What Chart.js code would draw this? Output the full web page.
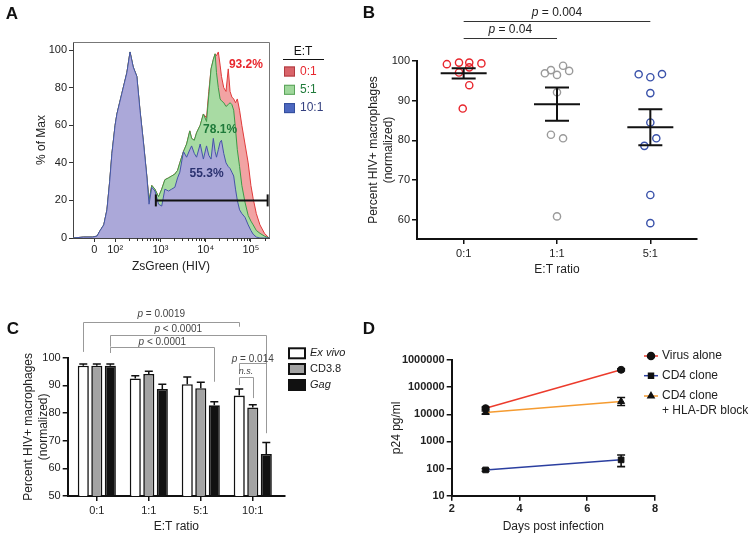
<!DOCTYPE html>
<html>
<head>
<meta charset="utf-8">
<script src="https://cdn.jsdelivr.net/npm/chart.js@4.4.1/dist/chart.umd.min.js"></script>
<style>
  body { margin: 0; background: #fff; width: 752px; height: 539px; position: relative; overflow: hidden; }
  canvas { position: absolute; }
</style>
</head>
<body>
<canvas id="panelA" width="340" height="280" style="left:0;top:0"></canvas>
<canvas id="panelB" width="412" height="280" style="left:340px;top:0"></canvas>
<canvas id="panelC" width="355" height="259" style="left:0;top:280px"></canvas>
<canvas id="panelD" width="397" height="259" style="left:355px;top:280px"></canvas>
<script>
// ---- A: ZsGreen histograms (x in decades on the display scale, y = % of max)
const histX = [1.07, 1.3, 1.5, 1.6, 1.67, 1.75, 1.82, 1.88, 1.93, 2.0,
  2.04, 2.1, 2.15, 2.2, 2.26, 2.33, 2.4, 2.48, 2.55, 2.63,
  2.7, 2.75, 2.81, 2.88, 2.96, 3.03, 3.1, 3.18, 3.25, 3.32,
  3.38, 3.43, 3.51, 3.58, 3.65, 3.69, 3.75, 3.8, 3.88, 3.95,
  4.02, 4.07, 4.12, 4.17, 4.21, 4.24, 4.28, 4.32, 4.35, 4.4,
  4.45, 4.5, 4.54, 4.58, 4.62, 4.66, 4.7, 4.75, 4.8, 4.87,
  4.94, 5.0, 5.05, 5.12, 5.2, 5.3, 5.4];
const hist10to1 = [0, 0.5, 0.5, 1, 4, 7, 15, 30, 45, 60,
  66, 72, 77, 82, 88, 99, 91, 86, 68, 50,
  33, 18, 27, 25, 18, 17, 26, 25, 26, 27,
  32, 35, 46, 43, 47, 49, 45, 43, 50, 42,
  49, 44, 42, 53, 46, 43, 47, 51, 52, 45,
  40, 38, 37, 35, 33, 26, 20, 15, 13, 11,
  7, 4, 2, 0.5, 0, 0, 0];
const hist5to1 = [0, 0.5, 0.5, 1, 4, 7, 15, 30, 45, 60,
  66, 72, 77, 82, 88, 99, 91, 86, 68, 50,
  33, 20, 28, 26, 22, 26, 31, 32, 33, 34,
  36, 40, 46, 50, 57, 53, 52, 56, 60, 66,
  62, 76, 90, 95, 98, 88, 80, 74, 73, 72,
  70, 71, 72, 71, 68, 58, 47, 38, 28, 19,
  12, 9, 7, 4, 2.5, 1, 0];
const hist0to1 = [0, 0.5, 0.5, 1, 4, 7, 15, 30, 45, 60,
  66, 72, 77, 82, 88, 99, 91, 86, 68, 50,
  33, 20, 28, 26, 22, 26, 31, 32, 33, 34,
  36, 40, 46, 50, 57, 53, 52, 56, 60, 66,
  64, 78, 90, 95, 98, 97, 99, 92, 86, 80,
  78, 90, 78, 75, 74, 72, 74, 68, 60, 50,
  40, 28, 21, 13, 7, 2.5, 0];
const gateX = [2.9, 5.37];
const gateY = [20, 20];
const aTickPos = [1.54, 2, 3, 4, 5];
const aTickLabels = ['0', '10\u00B2', '10\u00B3', '10\u2074', '10\u2075'];
const aYTicks = [0, 20, 40, 60, 80, 100];
const aGroups = ['0:1', '5:1', '10:1'];
const aPercents = ['93.2%', '78.1%', '55.3%'];

// ---- B: individual donors
const bCats = ['0:1', '1:1', '5:1'];
const b0x = [0.82, 0.95, 1.06, 1.19, 0.95, 1.06, 1.06, 0.99];
const b0y = [99.2, 99.6, 99.6, 99.4, 97.1, 98.4, 93.9, 88.0];
const b1x = [1.87, 1.935, 2.0, 2.065, 2.13, 2.0, 1.935, 2.065, 2.0];
const b1y = [96.9, 97.7, 96.5, 98.8, 97.5, 92.1, 81.4, 80.5, 60.8];
const b2x = [2.875, 3.0, 3.125, 3.0, 3.0, 3.064, 2.936, 3.0, 3.0];
const b2y = [96.65, 95.9, 96.7, 91.9, 84.5, 80.5, 78.6, 66.2, 59.1];
const bMean = [96.9, 89.1, 83.3];
const bSem = [1.3, 4.2, 4.55];
const bYTicks = [60, 70, 80, 90, 100];

// ---- C: clones
const cCats = ['0:1', '1:1', '5:1', '10:1'];
const exVivo = [97.1, 92.5, 90.4, 86.3];
const exVivoSem = [0.6, 1.0, 2.6, 2.4];
const cd38 = [97.1, 94.1, 89.0, 82.0];
const cd38Sem = [0.6, 1.0, 2.1, 1.0];
const gag = [97.1, 88.7, 82.8, 65.2];
const gagSem = [0.6, 1.7, 1.3, 4.1];

// ---- D: p24 over time
const dDays = [3, 7];
const virusAlone = [16800, 435000];
const virusLo = [15000, 400000];
const virusHi = [18500, 470000];
const cd4Clone = [89, 209];
const cd4Lo = [80, 118];
const cd4Hi = [99, 316];
const hlaBlock = [11600, 29600];
const hlaLo = [10200, 21000];
const hlaHi = [13200, 41700];
const dYTicks = [10, 100, 1000, 10000, 100000, 1000000];

const FONT = "'Liberation Sans', Arial, sans-serif";
Chart.defaults.font.family = FONT;
Chart.defaults.color = '#222';

function pts(xs, ys) { return xs.map((x, i) => ({ x: x, y: ys[i] })); }

function fixedTicks(values) {
  return function (scale) { scale.ticks = values.map(v => ({ value: v })); };
}

function axis(opts) {
  return Object.assign({
    grid: { drawOnChartArea: false, drawTicks: true, tickLength: 5, color: '#111', lineWidth: 1.5 },
    border: { display: true, color: '#111', width: 2 }
  }, opts);
}

function panelLetter(ctx, letter, x, y) {
  ctx.font = 'bold 17px ' + FONT;
  ctx.fillStyle = '#111';
  ctx.textAlign = 'center';
  ctx.textBaseline = 'middle';
  ctx.fillText(letter, x, y);
}

function pText(ctx, cx, cy, rest, size, color) {
  const it = 'italic ' + size + 'px ' + FONT;
  const no = size + 'px ' + FONT;
  ctx.font = it; const w1 = ctx.measureText('p').width;
  ctx.font = no; const w2 = ctx.measureText(rest).width;
  const x0 = cx - (w1 + w2) / 2;
  ctx.fillStyle = color; ctx.textAlign = 'left'; ctx.textBaseline = 'middle';
  ctx.font = it; ctx.fillText('p', x0, cy);
  ctx.font = no; ctx.fillText(rest, x0 + w1, cy);
}

// ================= A =================
const panelAExtras = {
  id: 'panelAExtras',
  afterDraw(chart) {
    const { ctx, chartArea: a, scales: { x, y } } = chart;
    ctx.save();
    // frame top / right
    ctx.strokeStyle = '#777'; ctx.lineWidth = 1;
    ctx.beginPath();
    ctx.moveTo(a.left, a.top + 0.5); ctx.lineTo(a.right + 0.5, a.top + 0.5); ctx.lineTo(a.right + 0.5, a.bottom);
    ctx.stroke();
    // log minor ticks
    ctx.strokeStyle = '#333';
    ctx.beginPath();
    for (let n = 2; n <= 5; n++) {
      for (let k = 2; k <= 9; k++) {
        const v = n + Math.log10(k);
        if (v > x.max) continue;
        const px = Math.round(x.getPixelForValue(v)) + 0.5;
        ctx.moveTo(px, a.bottom); ctx.lineTo(px, a.bottom + 3);
      }
    }
    ctx.stroke();
    // gate percentages
    ctx.font = 'bold 12px ' + FONT;
    ctx.textAlign = 'center'; ctx.textBaseline = 'middle';
    const pc = ['#e8262d', '#1f7a3a', '#2b3270'];
    const px = [4.89, 4.32, 4.02], py = [92, 57.4, 34];
    aPercents.forEach((t, i) => {
      ctx.fillStyle = pc[i];
      ctx.fillText(t, x.getPixelForValue(px[i]), y.getPixelForValue(py[i]));
    });
    // legend
    ctx.font = '12px ' + FONT;
    ctx.fillStyle = '#111';
    ctx.fillText('E:T', 303, 52);
    ctx.strokeStyle = '#111'; ctx.lineWidth = 1;
    ctx.beginPath(); ctx.moveTo(283, 59.5); ctx.lineTo(324, 59.5); ctx.stroke();
    const sq = ['#d9646a', '#9fd79b', '#4d68c0'];
    const sqb = ['#b03a40', '#5aa35a', '#334e9c'];
    const tc = ['#e8262d', '#1f7a3a', '#34407f'];
    aGroups.forEach((g, i) => {
      const cy = 71.5 + i * 18.3;
      ctx.fillStyle = sq[i]; ctx.fillRect(284, cy - 5, 11, 10);
      ctx.strokeStyle = sqb[i]; ctx.strokeRect(284.5, cy - 4.5, 10, 9);
      ctx.fillStyle = tc[i]; ctx.textAlign = 'left';
      ctx.fillText(g, 300, cy);
    });
    panelLetter(ctx, 'A', 12, 14);
    ctx.restore();
  }
};

new Chart(document.getElementById('panelA'), {
  type: 'line',
  data: {
    datasets: [
      { label: 'gate', data: pts(gateX, gateY), borderColor: '#111', borderWidth: 2,
        pointStyle: 'line', pointRadius: 6, pointRotation: 90, pointBorderWidth: 2,
        pointBorderColor: '#111', fill: false, clip: false },
      { label: '10:1', data: pts(histX, hist10to1), borderColor: '#4654a8', backgroundColor: '#aba8d9',
        borderWidth: 1, fill: 'origin', pointRadius: 0, tension: 0 },
      { label: '5:1', data: pts(histX, hist5to1), borderColor: '#3c9a48', backgroundColor: '#a8dba3',
        borderWidth: 1, fill: 'origin', pointRadius: 0, tension: 0 },
      { label: '0:1', data: pts(histX, hist0to1), borderColor: '#e03a3a', backgroundColor: '#f2a3a3',
        borderWidth: 1, fill: 'origin', pointRadius: 0, tension: 0 }
    ]
  },
  options: {
    responsive: false, devicePixelRatio: 1, animation: false,
    layout: { padding: { left: 0, top: 42, right: 71, bottom: 0 } },
    plugins: { legend: { display: false }, tooltip: { enabled: false } },
    scales: {
      x: axis({
        type: 'linear', min: 1.07, max: 5.4,
        grid: { drawOnChartArea: false, drawTicks: true, tickLength: 4, color: '#333', lineWidth: 1 },
        border: { display: true, color: '#444', width: 1 },
        afterBuildTicks: fixedTicks(aTickPos),
        afterFit: s => { s.height = 42; },
        ticks: { autoSkip: false, maxRotation: 0, padding: 1, font: { size: 11 }, callback: (v, i) => aTickLabels[i] },
        title: { display: true, text: 'ZsGreen (HIV)', font: { size: 12 }, padding: { top: 0, bottom: 6 } }
      }),
      y: axis({
        min: 0, max: 104.3,
        grid: { drawOnChartArea: false, drawTicks: true, tickLength: 4, color: '#333', lineWidth: 1 },
        border: { display: true, color: '#444', width: 1 },
        afterBuildTicks: fixedTicks(aYTicks),
        afterFit: s => { s.width = 73; },
        ticks: { padding: 2, font: { size: 11 } },
        title: { display: true, text: '% of Max', font: { size: 12 }, padding: { top: 34.8, bottom: 0 } }
      })
    }
  },
  plugins: [panelAExtras]
});

// ================= B =================
const panelBExtras = {
  id: 'panelBExtras',
  afterDatasetsDraw(chart) {
    const { ctx, scales: { x, y } } = chart;
    ctx.save();
    ctx.strokeStyle = '#111'; ctx.lineWidth = 2;
    bMean.forEach((m, i) => {
      const cx = x.getPixelForValue(i + 1);
      const my = y.getPixelForValue(m);
      const hi = y.getPixelForValue(m + bSem[i]);
      const lo = y.getPixelForValue(m - bSem[i]);
      ctx.beginPath();
      ctx.moveTo(cx - 23, my); ctx.lineTo(cx + 23, my);
      ctx.moveTo(cx - 12, hi); ctx.lineTo(cx + 12, hi);
      ctx.moveTo(cx - 12, lo); ctx.lineTo(cx + 12, lo);
      ctx.moveTo(cx, hi); ctx.lineTo(cx, lo);
      ctx.stroke();
    });
    ctx.restore();
  },
  afterDraw(chart) {
    const { ctx, scales: { x } } = chart;
    ctx.save();
    ctx.strokeStyle = '#333'; ctx.lineWidth = 1;
    const x1 = x.getPixelForValue(1), x2 = x.getPixelForValue(2), x3 = x.getPixelForValue(3);
    ctx.beginPath();
    ctx.moveTo(x1, 38.5); ctx.lineTo(x2, 38.5);
    ctx.moveTo(x1, 21.5); ctx.lineTo(x3, 21.5);
    ctx.stroke();
    pText(ctx, (x1 + x2) / 2, 30, ' = 0.04', 12, '#222');
    pText(ctx, (x1 + x3) / 2, 13, ' = 0.004', 12, '#222');
    panelLetter(ctx, 'B', 29, 13);
    ctx.restore();
  }
};

function bSet(xs, ys, color) {
  return { data: pts(xs, ys), borderColor: color, backgroundColor: 'rgba(0,0,0,0)',
    pointRadius: 3.6, pointBorderWidth: 1.4, pointBackgroundColor: 'rgba(0,0,0,0)',
    pointBorderColor: color, showLine: false, clip: false };
}

new Chart(document.getElementById('panelB'), {
  type: 'scatter',
  data: {
    datasets: [
      bSet(b0x, b0y, '#e8262d'),
      bSet(b1x, b1y, '#9a9a9a'),
      bSet(b2x, b2y, '#3a52aa')
    ]
  },
  options: {
    responsive: false, devicePixelRatio: 1, animation: false,
    layout: { padding: { left: 0, top: 61, right: 55, bottom: 0 } },
    plugins: { legend: { display: false }, tooltip: { enabled: false } },
    scales: {
      x: axis({
        type: 'linear', min: 0.5, max: 3.5,
        afterBuildTicks: fixedTicks([1, 2, 3]),
        afterFit: s => { s.height = 41; },
        ticks: { autoSkip: false, maxRotation: 0, padding: 3, font: { size: 11 }, callback: (v, i) => bCats[i] },
        title: { display: true, text: 'E:T ratio', font: { size: 12 }, padding: { top: 0, bottom: 2.8 } }
      }),
      y: axis({
        min: 55.1, max: 100,
        afterBuildTicks: fixedTicks(bYTicks),
        afterFit: s => { s.width = 77; },
        ticks: { padding: 2, font: { size: 11 } },
        title: { display: true, text: ['Percent HIV+ macrophages', '(normalized)'],
          font: { size: 12, lineHeight: 1.25 }, padding: { top: 25.8, bottom: 0 } }
      })
    }
  },
  plugins: [panelBExtras]
});

// ================= C =================
const cSems = [exVivoSem, cd38Sem, gagSem];
const panelCExtras = {
  id: 'panelCExtras',
  afterDatasetsDraw(chart) {
    const { ctx, scales: { y } } = chart;
    ctx.save();
    ctx.strokeStyle = '#111'; ctx.lineWidth = 1.5;
    chart.data.datasets.forEach((ds, i) => {
      chart.getDatasetMeta(i).data.forEach((bar, j) => {
        const top = y.getPixelForValue(ds.data[j].y + cSems[i][j]);
        ctx.beginPath();
        ctx.moveTo(bar.x, bar.y); ctx.lineTo(bar.x, top);
        ctx.moveTo(bar.x - 4, top); ctx.lineTo(bar.x + 4, top);
        ctx.stroke();
      });
    });
    ctx.restore();
  },
  afterDraw(chart) {
    const { ctx, scales: { y } } = chart;
    const bx = (ds, cat) => chart.getDatasetMeta(ds).data[cat].x;
    ctx.save();
    ctx.strokeStyle = '#999'; ctx.lineWidth = 1;
    const brackets = [
      { a: bx(0, 0), b: bx(0, 3), top: 113.0, la: 102.1, lb: 111.2, t: ' = 0.0019', ty: 115.6, dx: 0, n: false },
      { a: bx(2, 0), b: bx(2, 3), top: 108.2, la: 104.0, lb: 72.7, t: ' < 0.0001', ty: 110.4, dx: -10, n: false },
      { a: bx(2, 0), b: bx(2, 2), top: 104.0, la: 101.7, lb: 91.3, t: ' < 0.0001', ty: 105.5, dx: 0, n: false },
      { a: bx(0, 3), b: bx(2, 3), top: 98.0, la: 95.2, lb: 78.2, t: ' = 0.014', ty: 99.6, dx: 0, n: false },
      { a: bx(0, 3), b: bx(1, 3), top: 93.0, la: 90.1, lb: 85.4, t: 'n.s.', ty: 95.0, dx: 0, n: true }
    ];
    brackets.forEach(br => {
      const t = Math.round(y.getPixelForValue(br.top)) + 0.5;
      const a = Math.round(br.a) + 0.5, b = Math.round(br.b) + 0.5;
      ctx.beginPath();
      ctx.moveTo(a, y.getPixelForValue(br.la)); ctx.lineTo(a, t);
      ctx.lineTo(b, t); ctx.lineTo(b, y.getPixelForValue(br.lb));
      ctx.stroke();
      const cx = (br.a + br.b) / 2 + br.dx, cy = y.getPixelForValue(br.ty);
      if (br.n) {
        ctx.font = 'italic 9px ' + FONT; ctx.fillStyle = '#444';
        ctx.textAlign = 'center'; ctx.textBaseline = 'middle';
        ctx.fillText(br.t, cx, cy);
      } else {
        pText(ctx, cx, cy, br.t, 10, '#444');
      }
    });
    // legend
    const fills = ['#ffffff', '#a3a3a3', '#111111'];
    const names = ['Ex vivo', 'CD3.8', 'Gag'];
    const styles = ['italic ', '', 'italic '];
    const rows = [73.3, 89, 105];
    ctx.lineWidth = 2; ctx.strokeStyle = '#111';
    names.forEach((nm, i) => {
      ctx.fillStyle = fills[i];
      ctx.fillRect(289, rows[i] - 5, 16, 10);
      ctx.strokeRect(289, rows[i] - 5, 16, 10);
      ctx.fillStyle = '#222'; ctx.font = styles[i] + '11px ' + FONT;
      ctx.textAlign = 'left'; ctx.textBaseline = 'middle';
      ctx.fillText(nm, 310, rows[i]);
    });
    panelLetter(ctx, 'C', 13, 49);
    ctx.restore();
  }
};

function cSet(label, vals, fill) {
  return { label: label, data: vals.map((v, i) => ({ x: i, y: v })), backgroundColor: fill,
    borderColor: '#111', borderWidth: 1.6, categoryPercentage: 0.78, barPercentage: 0.82 };
}

new Chart(document.getElementById('panelC'), {
  type: 'bar',
  data: {
    datasets: [
      cSet('Ex vivo', exVivo, '#ffffff'),
      cSet('CD3.8', cd38, '#a3a3a3'),
      cSet('Gag', gag, '#111111')
    ]
  },
  options: {
    responsive: false, devicePixelRatio: 1, animation: false,
    layout: { padding: { left: 0, top: 77.7, right: 70, bottom: 0 } },
    plugins: { legend: { display: false }, tooltip: { enabled: false } },
    scales: {
      x: axis({
        type: 'linear', min: -0.56, max: 3.62, offset: false,
        grid: { drawOnChartArea: false, drawTicks: true, tickLength: 5, color: '#111', lineWidth: 1.5, offset: false },
        afterBuildTicks: fixedTicks([0, 1, 2, 3]),
        afterFit: s => { s.height = 43; },
        ticks: { autoSkip: false, maxRotation: 0, padding: 3, font: { size: 11 }, callback: (v, i) => cCats[i] },
        title: { display: true, text: 'E:T ratio', font: { size: 12 }, padding: { top: 0, bottom: 5 } }
      }),
      y: axis({
        min: 50, max: 100,
        afterBuildTicks: fixedTicks([50, 60, 70, 80, 90, 100]),
        afterFit: s => { s.width = 67.7; },
        ticks: { padding: 2, font: { size: 11 } },
        title: { display: true, text: ['Percent HIV+ macrophages', '(normalized)'],
          font: { size: 12, lineHeight: 1.25 }, padding: { top: 20.8, bottom: 0 } }
      })
    }
  },
  plugins: [panelCExtras]
});

// ================= D =================
const dErr = [[virusLo, virusHi], [cd4Lo, cd4Hi], [hlaLo, hlaHi]];
const dNames = [['Virus alone'], ['CD4 clone'], ['CD4 clone', '+ HLA-DR block']];
const dColors = ['#ec3b2c', '#2b3fa0', '#f59b30'];
const dMarkers = ['circle', 'rect', 'triangle'];
const panelDExtras = {
  id: 'panelDExtras',
  afterDatasetsDraw(chart) {
    const { ctx, scales: { x, y } } = chart;
    ctx.save();
    ctx.strokeStyle = '#111'; ctx.lineWidth = 1.6;
    dErr.forEach((e, i) => {
      dDays.forEach((d, j) => {
        const px = x.getPixelForValue(d);
        const lo = y.getPixelForValue(e[0][j]), hi = y.getPixelForValue(e[1][j]);
        ctx.beginPath();
        ctx.moveTo(px, lo); ctx.lineTo(px, hi);
        ctx.moveTo(px - 4, lo); ctx.lineTo(px + 4, lo);
        ctx.moveTo(px - 4, hi); ctx.lineTo(px + 4, hi);
        ctx.stroke();
      });
    });
    ctx.restore();
  },
  afterDraw(chart) {
    const { ctx } = chart;
    ctx.save();
    const rows = [76, 95.7, 116];
    dNames.forEach((lines, i) => {
      ctx.strokeStyle = dColors[i]; ctx.lineWidth = 1.5;
      ctx.beginPath(); ctx.moveTo(289, rows[i]); ctx.lineTo(303, rows[i]); ctx.stroke();
      ctx.fillStyle = '#111'; ctx.strokeStyle = '#111';
      Chart.helpers.drawPoint(ctx, { pointStyle: dMarkers[i], radius: 3.5, rotation: 0, borderWidth: 1 }, 296, rows[i]);
      ctx.fillStyle = '#222'; ctx.font = '12px ' + FONT;
      ctx.textAlign = 'left'; ctx.textBaseline = 'middle';
      lines.forEach((t, k) => ctx.fillText(t, 307, rows[i] + k * 15));
    });
    panelLetter(ctx, 'D', 14, 49);
    ctx.restore();
  }
};

function dSet(vals, i) {
  return { data: pts(dDays, vals), borderColor: dColors[i], borderWidth: 1.5,
    pointStyle: dMarkers[i], pointRadius: i === 0 ? 3.5 : 4, pointBackgroundColor: '#111',
    pointBorderColor: '#111', pointBorderWidth: 1, fill: false, tension: 0, clip: false };
}

new Chart(document.getElementById('panelD'), {
  type: 'line',
  data: { datasets: [dSet(virusAlone, 0), dSet(cd4Clone, 1), dSet(hlaBlock, 2)] },
  options: {
    responsive: false, devicePixelRatio: 1, animation: false,
    layout: { padding: { left: 0, top: 80, right: 97, bottom: 0 } },
    plugins: { legend: { display: false }, tooltip: { enabled: false } },
    scales: {
      x: axis({
        type: 'linear', min: 2, max: 8,
        afterBuildTicks: fixedTicks([2, 4, 6, 8]),
        afterFit: s => { s.height = 43.3; },
        ticks: { autoSkip: false, maxRotation: 0, padding: 2, font: { size: 11, weight: 'bold' } },
        title: { display: true, text: 'Days post infection', font: { size: 12 }, padding: { top: 0, bottom: 5 } }
      }),
      y: axis({
        type: 'logarithmic', min: 10, max: 1000000,
        afterBuildTicks: fixedTicks(dYTicks),
        afterFit: s => { s.width = 96.7; },
        ticks: { autoSkip: false, padding: 2, font: { size: 11, weight: 'bold' }, callback: (v, i) => String(dYTicks[i]) },
        title: { display: true, text: 'p24 pg/ml', font: { size: 12 }, padding: { top: 34.2, bottom: 0 } }
      })
    }
  },
  plugins: [panelDExtras]
});
</script>
</body>
</html>
